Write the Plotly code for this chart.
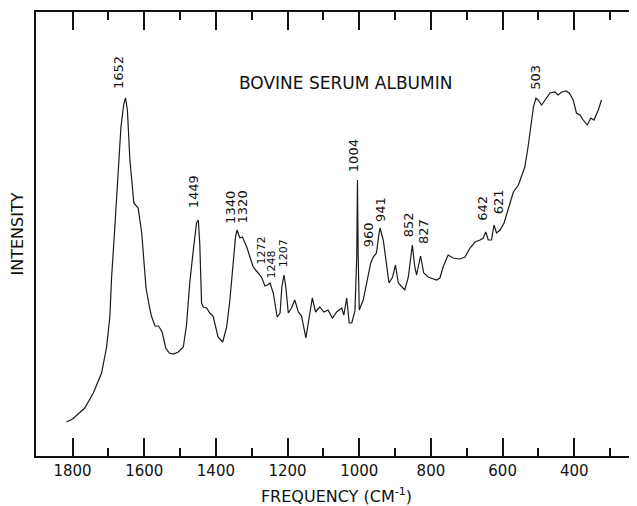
import plotly.graph_objects as go

# Raman spectrum of bovine serum albumin (arbitrary intensity units)
freq = [1817, 1800, 1766, 1742, 1719, 1705, 1696, 1691, 1682, 1673, 1665, 1657, 1652, 1647,
        1640, 1629, 1617, 1607, 1595, 1586, 1580, 1570, 1560, 1550, 1540, 1530, 1519, 1505,
        1491, 1482, 1473, 1463, 1454, 1449, 1445, 1440, 1435, 1426, 1417, 1408, 1394, 1381,
        1370, 1361, 1352, 1345, 1341, 1333, 1326, 1314, 1305, 1296, 1282, 1273, 1263, 1256,
        1249, 1240, 1229, 1221, 1216, 1210, 1205, 1198, 1189, 1180, 1170, 1161, 1149, 1140,
        1131, 1122, 1110, 1099, 1087, 1075, 1063, 1049, 1043, 1035, 1028, 1021, 1015, 1012,
        1007, 1005, 1003, 1000, 989, 979, 968, 961, 952, 945, 942, 933, 924, 917, 907, 899,
        891, 882, 873, 863, 857, 852, 845, 840, 829, 820, 808, 784, 775, 766, 752, 738, 719,
        705, 691, 677, 663, 654, 647, 640, 631, 624, 617, 607, 596, 587, 580, 570, 556, 547,
        538, 529, 521, 514, 507, 501, 491, 482, 468, 454, 445, 435, 423, 414, 403, 394, 384,
        375, 364, 354, 345, 333, 324]
intensity = [34, 37, 48, 63, 83, 109, 139, 179, 229, 279, 329, 352, 358, 346,
             296, 253, 248, 223, 168, 150, 140, 130, 130, 124, 108, 103, 102, 104,
             109, 131, 173, 206, 233, 236, 212, 153, 149, 148, 143, 140, 119, 114,
             129, 156, 189, 220, 226, 218, 219, 209, 199, 189, 183, 179, 170, 171,
             173, 163, 139, 143, 169, 181, 169, 143, 148, 156, 144, 140, 118, 137,
             158, 144, 149, 144, 146, 138, 144, 148, 141, 158, 133, 133, 143, 145,
             200, 276, 200, 146, 156, 173, 193, 199, 203, 222, 228, 216, 193, 173, 179, 191,
             173, 169, 166, 179, 196, 211, 189, 181, 200, 183, 179, 176, 178, 189, 201, 198, 197,
             199, 208, 214, 216, 218, 224, 216, 216, 231, 223, 226, 233, 243, 253, 264, 271, 279,
             289, 309, 329, 349, 358, 356, 351, 356, 363, 364, 361, 364, 365, 363, 356, 343, 341,
             336, 331, 338, 336, 346, 356]

# Peak labels (text) and where each label is written (cm-1, intensity units)
peak_labels = ["1652", "1449", "1340", "1320", "1272", "1248", "1207", "1004",
               "960", "941", "852", "827", "642", "621", "503"]
label_x = [1673, 1463, 1361, 1326, 1273, 1245, 1212, 1017,
           975, 942, 863, 822, 658, 612, 510]
label_y = [383, 264, 249, 249, 206, 192, 203, 300,
           221, 246, 231, 224, 248, 254, 379]
label_size = [13, 13, 13, 13, 11, 11, 11, 13, 13, 13, 13, 13, 13, 13, 13]

x_ticks = [1800, 1600, 1400, 1200, 1000, 800, 600, 400]
title_text = "BOVINE SERUM ALBUMIN"

FONT = "DejaVu Sans"

fig = go.Figure()
fig.add_trace(go.Scatter(x=freq, y=intensity, mode="lines",
                         line=dict(color="#1a1a1a", width=1.2),
                         showlegend=False, hoverinfo="x+y"))

annotations = []
for t, lx, ly, s in zip(peak_labels, label_x, label_y, label_size):
    annotations.append(dict(x=lx, y=ly, xref="x", yref="y", text=t, showarrow=False,
                            textangle=-90, xanchor="center", yanchor="middle",
                            font=dict(family=FONT, size=s, color="#111")))
annotations.append(dict(x=0.515, y=0.841, xref="paper", yref="paper", text=title_text,
                        showarrow=False, xanchor="center", yanchor="middle",
                        font=dict(family=FONT, size=17, color="#111")))

# The page body has an 8px default margin, so the figure is sized to fit the window.
fig.update_layout(
    width=629, height=498,
    margin=dict(l=28, r=0, t=4, b=50, autoexpand=False),
    paper_bgcolor="white", plot_bgcolor="white",
    font=dict(family=FONT, color="#111"),
    annotations=annotations,
    xaxis=dict(
        range=[1902, 225], automargin=False,
        tickvals=x_ticks, ticktext=[str(v) for v in x_ticks],
        ticks="inside", ticklen=18, tickwidth=1.5, tickcolor="#111",
        minor=dict(dtick=100, tick0=0, ticks="inside", ticklen=8, tickwidth=1.5, tickcolor="#111"),
        showline=True, linecolor="#111", linewidth=2, mirror="allticks",
        showgrid=False, zeroline=False,
        tickfont=dict(family=FONT, size=15, color="#111"),
        title=dict(text="FREQUENCY (CM<sup>-1</sup>)", standoff=17,
                   font=dict(family=FONT, size=16, color="#111")),
    ),
    yaxis=dict(
        range=[0, 444], automargin=False,
        showticklabels=False, ticks="",
        showline=True, linecolor="#111", linewidth=2, mirror=False,
        showgrid=False, zeroline=False,
        title=dict(text="INTENSITY", standoff=7,
                   font=dict(family=FONT, size=16, color="#111")),
    ),
)

fig.write_html("out.html")
